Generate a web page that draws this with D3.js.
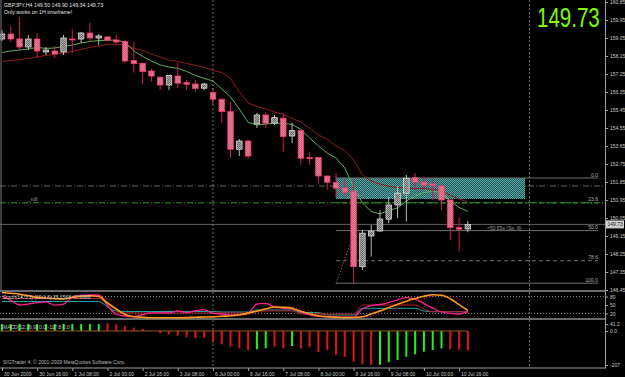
<!DOCTYPE html>
<html>
<head>
<meta charset="utf-8">
<script src="https://cdn.jsdelivr.net/npm/d3@7"></script>
<style>
  html, body { margin: 0; padding: 0; background: #000; }
  svg { display: block; }
  text { font-family: "Liberation Sans", Arial, sans-serif; }
</style>
</head>
<body>
<div id="chart"></div>
<script>
// GBPJPY H4 bars, 30 Jun 2009 00:00 .. 10 Jul 2009 20:00
const opens  = [159.00,159.25,159.00,158.60,159.00,158.35,158.40,158.35,159.00,159.00,159.30,159.05,159.10,158.95,158.87,157.92,157.79,157.40,157.09,156.70,157.15,156.82,156.75,156.54,156.32,155.99,155.37,153.49,153.90,154.75,155.20,154.79,155.04,154.15,154.42,153.07,153.07,152.15,151.82,151.55,151.37,147.62,149.15,149.40,149.99,150.70,151.29,152.07,151.84,151.75,151.65,150.95,149.57,149.50];
const highs  = [159.45,159.65,160.10,159.20,159.30,158.60,158.65,159.20,159.50,159.35,159.80,159.25,159.15,159.20,158.95,158.85,157.80,157.50,157.12,157.20,157.80,156.95,156.95,156.82,156.54,156.00,155.87,154.00,153.95,155.30,155.32,155.20,155.32,154.82,154.45,153.37,153.10,152.17,152.30,151.95,151.95,149.45,149.70,150.45,151.12,151.62,152.20,152.29,152.12,151.95,151.66,150.96,150.09,149.90];
const lows   = [158.90,158.85,158.45,158.45,158.05,158.20,158.05,158.20,158.30,158.80,158.85,158.70,158.85,158.75,157.80,157.32,156.75,156.87,156.45,156.45,156.55,156.45,156.37,156.45,155.70,154.80,153.04,153.15,153.00,154.55,154.55,154.70,153.37,153.79,152.70,152.70,151.79,151.45,151.05,151.12,146.79,147.45,148.12,149.37,149.79,150.04,149.87,151.45,151.45,150.95,150.45,148.95,148.37,149.34];
const closes = [159.25,159.00,158.60,159.00,158.40,158.45,158.25,159.05,158.95,159.30,159.05,159.15,158.95,158.85,157.90,157.77,157.37,157.15,156.70,157.17,156.79,156.74,156.53,156.75,155.99,155.37,153.49,153.90,153.15,155.20,154.79,155.07,154.12,154.42,153.04,153.02,152.15,151.84,151.54,151.34,147.62,149.29,149.40,150.00,150.70,151.29,152.04,151.84,151.70,151.67,150.95,149.57,149.49,149.73];

// moving averages (green = fast, dark red = slow)
const maFast = [158.33,158.40,158.45,158.50,158.58,158.53,158.55,158.63,158.70,158.80,158.88,158.92,158.94,158.94,158.85,158.40,158.13,157.90,157.70,157.60,157.53,157.38,157.18,157.03,156.90,156.50,156.10,155.50,154.83,154.70,154.75,154.80,154.78,154.73,154.48,154.05,153.65,153.30,153.05,152.55,151.60,150.80,150.38,150.25,150.43,150.55,150.90,151.15,151.33,151.38,151.33,150.88,150.58,150.38];
const maSlow = [157.88,157.93,157.98,158.03,158.10,158.18,158.23,158.30,158.38,158.48,158.58,158.65,158.73,158.74,158.70,158.53,158.43,158.25,158.10,157.95,157.88,157.78,157.68,157.58,157.43,157.33,157.03,156.35,155.80,155.63,155.50,155.35,155.23,155.03,154.85,154.53,154.20,153.98,153.65,153.43,152.95,152.20,151.90,151.75,151.63,151.58,151.53,151.53,151.53,151.48,151.43,151.18,151.00,150.85];

// oscillator window
const stochMain   = [94.6,91.8,88.6,82.9,77.1,75.0,72.9,71.8,77.5,80.7,82.9,80.4,57.1,35.7,16.1,8.2,6.1,4.6,4.6,4.6,4.6,5.0,6.1,7.1,8.2,10.0,11.4,15.4,21.1,27.9,36.4,42.9,41.8,38.6,27.5,18.6,11.8,8.2,6.1,5.0,5.4,7.9,17.9,28.6,40.7,52.9,63.6,72.9,81.1,86.4,85.0,72.5,51.4,30.4];
const stochSignal = [90,92,90,87,82,78,75,73,74,77,80,81,73,57,36,20,10,7,5,5,5,5,5,6,7,8,10,12,16,21,29,36,41,41,36,28,19,13,9,6,5,6,10,18,29,41,52,63,73,80,84,81,70,52];
const rsiLine     = [82.1,66.4,50.0,53.6,58.2,61.4,49.3,52.9,77.9,84.3,85.7,85.7,48.2,16.1,10.7,8.6,15.4,21.8,22.1,21.4,28.6,22.9,30.0,33.6,20.4,17.9,14.6,15.4,20.4,53.6,55.7,42.9,38.2,36.4,25.0,15.0,9.3,7.5,7.1,6.8,6.4,36.4,47.9,51.8,58.9,68.6,76.4,70.7,55.0,38.6,25.0,20.4,17.9,26.1];
const tealLine    = [62.5,62.5,62.5,62.5,62.5,62.5,62.5,62.5,62.5,62.5,62.5,62.5,42.9,28.6,26.8,26.8,26.8,26.8,26.8,26.8,26.8,26.8,26.8,26.8,26.8,25,25,25,25,32.1,32.1,32.1,32.1,32.1,23.2,23.2,23.2,14.3,14.3,14.3,14.3,38.2,38.2,38.2,38.2,38.2,38.2,38.2,28.6,26.1,26.1,26.1,26.1,26.1];
const redLine     = [73.2,73.2,73.2,73.2,73.2,73.2,73.2,73.2,73.2,73.2,73.2,73.2,50,21.4,21.4,21.4,21.4,21.4,21.4,21.4,21.4,21.4,21.4,21.4,21.4,21.4,21.4,21.4,21.4,28.6,28.6,28.6,28.6,28.6,17.9,17.9,17.9,17.9,17.9,17.9,17.9,50,50,50,50,50,50,50,35.7,26.1,26.1,26.1,26.1,26.1];
const oscLevels = [20, 50, 80];

// MACD histogram and its rising / falling flag
const macdHist = [42,42,43,43,42,42,42,43,43,42,42,42,46.9,40.8,30.4,20.1,12.2,-1,-14,-20.1,-28.6,-38.3,-44.4,-40.8,-68.8,-81,-95.6,-105.3,-115.6,-111.4,-105.3,-95.6,-105.3,-91.3,-106.5,-97.4,-127.8,-115.6,-146,-156.4,-186.9,-202.7,-207,-206,-190.5,-176.5,-156.4,-142,-126,-115.6,-105.3,-110,-114,-117.8];
const macdUp   = [1,1,1,1,1,1,1,1,1,1,1,1,0,0,0,0,0,0,0,0,0,0,0,0,0,0,0,0,0,1,1,0,0,1,0,0,0,0,0,0,0,0,0,1,1,1,1,1,1,1,1,0,0,0];
const macdTicks = [-207, 0, 41.2];

// axes
const priceTicks = [146.45,147.35,148.25,149.15,150.05,150.95,151.85,152.75,153.65,154.55,155.45,156.35,157.25,158.15,159.05,159.95,160.85];
const timeTicks  = [0,4,8,12,16,20,24,28,32,36,40,44,48,52];
const timeLabels = ['30 Jun 2009','30 Jun 16:00','1 Jul 08:00','2 Jul 00:00','2 Jul 16:00','3 Jul 08:00','6 Jul 00:00','6 Jul 16:00','7 Jul 08:00','8 Jul 00:00','8 Jul 16:00','9 Jul 08:00','10 Jul 00:00','10 Jul 16:00'];
const weekSeparators = [24, 60];

// drawn objects
const bid = 149.73;
const fibHigh = 152.05, fibLow = 146.79, fibStart = 38;
const fibLevels = [0, 23.6, 50, 78.6, 100];
const fibLabels = ['0.0', '23.6', '50.0', '78.6', '100.0'];
const zoneTop = 152.05, zoneBottom = 151.0, zoneBars = [38, 59.5];
const dashLine = 151.65;
const trendBars = [38, 40], trendPrices = [146.79, 149.2];

const W = 625, H = 377;
const svg = d3.select('#chart').append('svg')
  .attr('width', W).attr('height', H)
  .style('background', '#000');

const defs = svg.append('defs');
function checker(id, a, b) {
  const p = defs.append('pattern').attr('id', id)
    .attr('width', 2).attr('height', 2).attr('patternUnits', 'userSpaceOnUse');
  p.append('rect').attr('width', 2).attr('height', 2).attr('fill', a);
  p.append('rect').attr('width', 1).attr('height', 1).attr('fill', b);
  p.append('rect').attr('x', 1).attr('y', 1).attr('width', 1).attr('height', 1).attr('fill', b);
}
checker('bear', '#ff4a78', '#b8949c');
checker('bull', '#6a6a6a', '#a8a8a8');
checker('zone', '#1f5e5e', '#5c9e9e');
defs.append('clipPath').attr('id', 'mainClip')
  .append('rect').attr('x', 0).attr('y', 0).attr('width', 605).attr('height', 290);

//Scales
const x = d3.scaleLinear().domain([0, 60]).range([2, 529.4]);
const y = d3.scaleLinear().domain([146.4, 160.95]).range([291, 0]);
const yOsc = d3.scaleLinear().domain([0, 100]).range([319, 291]);
const yMacd = d3.scaleLinear().domain([-207, 41.2]).range([365, 324.23]);
const idx = d3.range(opens.length);
const bodyW = 5.5;

const main = svg.append('g').attr('clip-path', 'url(#mainClip)');

//Week separators through every window
svg.append('g').selectAll('line').data(weekSeparators).join('line')
  .attr('x1', d => x(d)).attr('x2', d => x(d))
  .attr('y1', 0).attr('y2', 368)
  .attr('stroke', '#8a8a8a').attr('stroke-width', 0.8).attr('stroke-dasharray', '2,2');

//Horizontal helper lines
main.append('line')
  .attr('x1', 0).attr('x2', 605).attr('y1', y(dashLine)).attr('y2', y(dashLine))
  .attr('stroke', '#5a6a5a').attr('stroke-dasharray', '6,2,1,2');
const f236 = fibHigh - (fibHigh - fibLow) * 0.236;
main.append('line')
  .attr('x1', 0).attr('x2', 605).attr('y1', y(f236)).attr('y2', y(f236))
  .attr('stroke', '#2f9a2f').attr('stroke-dasharray', '6,2,1,2');
main.append('line')
  .attr('x1', 0).attr('x2', 605).attr('y1', y(bid)).attr('y2', y(bid))
  .attr('stroke', '#5e5e5e');

//Zone rectangle
main.append('rect')
  .attr('x', x(zoneBars[0])).attr('y', y(zoneTop))
  .attr('width', x(zoneBars[1]) - x(zoneBars[0]))
  .attr('height', y(zoneBottom) - y(zoneTop))
  .attr('fill', 'url(#zone)');

//Fibonacci levels
const fib = main.append('g');
fib.selectAll('line').data(fibLevels).join('line')
  .attr('x1', x(fibStart)).attr('x2', 598)
  .attr('y1', d => y(fibHigh - (fibHigh - fibLow) * d / 100))
  .attr('y2', d => y(fibHigh - (fibHigh - fibLow) * d / 100))
  .attr('stroke', (d, i) => i === 1 ? '#2f9a2f' : '#6e6e6e')
  .attr('stroke-dasharray', (d, i) => (i === 1 || i === 3) ? '4,3' : null);
fib.selectAll('text').data(fibLevels).join('text')
  .attr('x', 598)
  .attr('y', d => y(fibHigh - (fibHigh - fibLow) * d / 100) - 1.5)
  .attr('text-anchor', 'end')
  .attr('font-size', 5).attr('fill', '#b0b0b0')
  .text((d, i) => fibLabels[i]);
main.append('line')
  .attr('x1', x(trendBars[0])).attr('y1', y(trendPrices[0]))
  .attr('x2', x(trendBars[1])).attr('y2', y(trendPrices[1]))
  .attr('stroke', '#8a8a8a').attr('stroke-dasharray', '1,2');

//Moving averages
const maLine = arr => d3.line().x((d, i) => x(i)).y(d => y(d))(arr);
main.append('path').attr('d', maLine(maSlow))
  .attr('fill', 'none').attr('stroke', '#8f1d1d').attr('stroke-width', 1);
main.append('path').attr('d', maLine(maFast))
  .attr('fill', 'none').attr('stroke', '#5fae5f').attr('stroke-width', 1);

//Candles
const candles = main.append('g');
candles.selectAll('line').data(idx).join('line')
  .attr('x1', i => x(i)).attr('x2', i => x(i))
  .attr('y1', i => y(highs[i])).attr('y2', i => y(lows[i]))
  .attr('stroke', i => closes[i] >= opens[i] ? '#b8b8b8' : '#d4185c');
candles.selectAll('rect').data(idx).join('rect')
  .attr('x', i => x(i) - bodyW / 2)
  .attr('y', i => y(Math.max(opens[i], closes[i])))
  .attr('width', bodyW)
  .attr('height', i => Math.max(1, y(Math.min(opens[i], closes[i])) - y(Math.max(opens[i], closes[i]))))
  .attr('fill', i => closes[i] >= opens[i] ? 'url(#bull)' : 'url(#bear)')
  .attr('stroke', i => closes[i] >= opens[i] ? '#d6d6d6' : '#ff3a6c')
  .attr('stroke-width', 0.8);

//Left border
svg.append('line').attr('x1', 1).attr('x2', 1).attr('y1', 0).attr('y2', 290)
  .attr('stroke', '#7a7a7a');

//Price axis
const priceAxis = svg.append('g').attr('transform', 'translate(605,0)')
  .call(d3.axisRight(y).tickValues(priceTicks).tickSize(3).tickSizeOuter(0).tickPadding(2)
    .tickFormat(d3.format('.2f')));
priceAxis.select('.domain').remove();
priceAxis.selectAll('line').attr('stroke', '#a0a0a0');
priceAxis.selectAll('text').attr('font-size', 5).attr('fill', '#c8c8c8')
  .attr('font-family', '"Liberation Sans", Arial, sans-serif');

svg.append('rect').attr('x', 606).attr('y', y(bid) - 4).attr('width', 18).attr('height', 8)
  .attr('fill', '#cfcfcf');
svg.append('text').attr('x', 607.5).attr('y', y(bid) + 2)
  .attr('font-size', 5).attr('fill', '#202020').text(bid.toFixed(2));

svg.append('line').attr('x1', 605.5).attr('x2', 605.5).attr('y1', 0).attr('y2', 368)
  .attr('stroke', '#a0a0a0');

//Window separators
[290, 318].forEach(s => {
  svg.append('rect').attr('x', 0).attr('y', s).attr('width', 605).attr('height', 2)
    .attr('fill', '#6a6a6a');
});

//Oscillator window
const osc = svg.append('g');
osc.selectAll('line.lvl').data([80, 20]).join('line').attr('class', 'lvl')
  .attr('x1', 0).attr('x2', 605).attr('y1', d => yOsc(d)).attr('y2', d => yOsc(d))
  .attr('stroke', '#8a8a8a').attr('stroke-dasharray', '1,2');
const oscLine = arr => d3.line().x((d, i) => x(i)).y(d => yOsc(d)).curve(d3.curveMonotoneX)(arr);
osc.append('path').attr('d', oscLine(tealLine)).attr('fill', 'none').attr('stroke', '#1fa8a0').attr('stroke-width', 1);
osc.append('path').attr('d', oscLine(redLine)).attr('fill', 'none').attr('stroke', '#b22030').attr('stroke-width', 1);
osc.append('path').attr('d', oscLine(rsiLine)).attr('fill', 'none').attr('stroke', '#ff1f8f').attr('stroke-width', 1.3);
osc.append('path').attr('d', oscLine(stochSignal)).attr('fill', 'none').attr('stroke', '#c01818').attr('stroke-width', 1).attr('stroke-dasharray', '1,2');
osc.append('path').attr('d', oscLine(stochMain)).attr('fill', 'none').attr('stroke', '#ff9a1a').attr('stroke-width', 1.6);
osc.append('text').attr('x', 3).attr('y', 299).attr('font-size', 5).attr('fill', '#c8c8c8')
  .text('Stoch(14,3,3) (12,1.5) 25.1503 47.5368');
const oscAxis = svg.append('g').attr('transform', 'translate(605,0)')
  .call(d3.axisRight(yOsc).tickValues(oscLevels).tickSize(3).tickPadding(2));
oscAxis.select('.domain').remove();
oscAxis.selectAll('line').attr('stroke', '#a0a0a0');
oscAxis.selectAll('text').attr('font-size', 5).attr('fill', '#c8c8c8')
  .attr('font-family', '"Liberation Sans", Arial, sans-serif');

//MACD window
const macd = svg.append('g');
macd.selectAll('rect').data(idx).join('rect')
  .attr('x', i => x(i) - 1)
  .attr('y', i => Math.min(yMacd(0), yMacd(macdHist[i])))
  .attr('width', 2)
  .attr('height', i => Math.abs(yMacd(macdHist[i]) - yMacd(0)))
  .attr('fill', i => macdUp[i] ? '#22ee22' : '#dd1414');
macd.append('line')
  .attr('x1', 0).attr('x2', x(idx.length - 1)).attr('y1', yMacd(0)).attr('y2', yMacd(0))
  .attr('stroke', '#9a5a22').attr('stroke-width', 1);
macd.append('text').attr('x', 3).attr('y', 329).attr('font-size', 5).attr('fill', '#c8c8c8')
  .text('MACD(12,26,9) 0.0 -117.8 0.0');
const macdAxis = svg.append('g').attr('transform', 'translate(605,0)')
  .call(d3.axisRight(yMacd).tickValues(macdTicks).tickSize(3).tickPadding(2)
    .tickFormat(d => d === -207 ? '-207' : d.toFixed(1)));
macdAxis.select('.domain').remove();
macdAxis.selectAll('line').attr('stroke', '#a0a0a0');
macdAxis.selectAll('text').attr('font-size', 5).attr('fill', '#c8c8c8')
  .attr('font-family', '"Liberation Sans", Arial, sans-serif');
svg.append('text').attr('x', 3).attr('y', 364).attr('font-size', 5).attr('fill', '#b8b8b8')
  .text('SIGTrader 4, \u00a9 2001-2009 MetaQuotes Software Corp.');

//Time axis
svg.append('line').attr('x1', 0).attr('x2', 606).attr('y1', 368).attr('y2', 368)
  .attr('stroke', '#a0a0a0');
const timeAxis = svg.append('g').attr('transform', 'translate(0,368)')
  .call(d3.axisBottom(x).tickValues(timeTicks).tickSize(3).tickPadding(1)
    .tickFormat((d, i) => timeLabels[i]));
timeAxis.select('.domain').remove();
timeAxis.selectAll('line').attr('stroke', '#a0a0a0');
timeAxis.selectAll('text').attr('font-size', 5).attr('fill', '#c8c8c8')
  .attr('text-anchor', 'start').attr('dx', 1.5)
  .attr('font-family', '"Liberation Sans", Arial, sans-serif');

//Texts in the main window
svg.append('text').attr('x', 4).attr('y', 7).attr('font-size', 5.3).attr('fill', '#e0e0e0')
  .text('GBPJPY,H4  149.50 149.90 149.34 149.73');
svg.append('text').attr('x', 4).attr('y', 14).attr('font-size', 5.3).attr('fill', '#e0e0e0')
  .text('Only works on 1H timeframe!');
// big bid price, squeezed horizontally like the narrow terminal font
svg.append('g').attr('transform', 'translate(537,27) scale(0.76,1)')
  .append('text').attr('x', 0).attr('y', 0).attr('font-size', 27).attr('fill', '#7cfc00')
  .text(bid.toFixed(2));
svg.append('text').attr('x', 28).attr('y', y(f236) - 1.5).attr('font-size', 5).attr('fill', '#9a9a9a')
  .text('_roll');
svg.append('text').attr('x', 487).attr('y', y(bid) + 5.5).attr('font-size', 5).attr('fill', '#9a9a9a')
  .text('<50.55s (Sp. 8)');
</script>
</body>
</html>
